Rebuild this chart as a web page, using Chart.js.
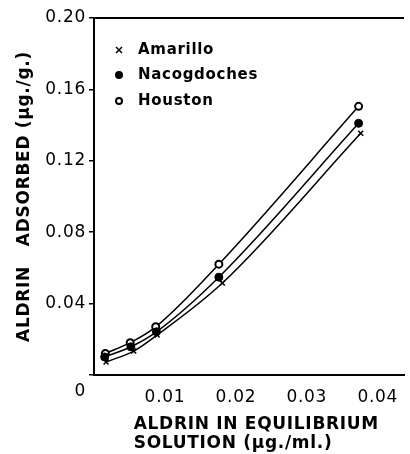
<!DOCTYPE html>
<html>
<head>
<meta charset="utf-8">
<script src="https://cdn.jsdelivr.net/npm/chart.js@4.4.1/dist/chart.umd.min.js"></script>
<style>
  html, body { margin: 0; padding: 0; background: #fff; }
  canvas { display: block; }
</style>
</head>
<body>
<canvas id="aldrin-chart" width="410" height="454"></canvas>
<script>
// aldrin adsorption vs equilibrium concentration, three soils

var seriesNames = ['Amarillo', 'Nacogdoches', 'Houston'];

// x = aldrin in solution (µg/ml), y = aldrin adsorbed (µg/g)
var amarilloX = [0.0017, 0.0056, 0.0089, 0.0181, 0.0376];
var amarilloY = [0.0073, 0.0134, 0.0224, 0.0515, 0.1354];

var nacogdochesX = [0.0015, 0.0052, 0.0088, 0.0176, 0.0373];
var nacogdochesY = [0.0101, 0.0158, 0.0242, 0.0548, 0.1410];

var houstonX = [0.0016, 0.0051, 0.0087, 0.0176, 0.0373];
var houstonY = [0.0121, 0.0181, 0.0270, 0.0621, 0.1505];

var xTicks = [0.01, 0.02, 0.03, 0.04];
var xTickLabels = ['0.01', '0.02', '0.03', '0.04'];
var yTicks = [0, 0.04, 0.08, 0.12, 0.16, 0.20];
var yTickLabels = ['0', '0.04', '0.08', '0.12', '0.16', '0.20'];

var FONT = 'DejaVu Sans';

function toPoints(xs, ys) {
    return xs.map(function (x, i) { return { x: x, y: ys[i] }; });
}

// letter spacing like the hand lettering of the original
var spacingPlugin = {
    id: 'spacing',
    beforeUpdate: function (chart) { chart.ctx.letterSpacing = '0.7px'; },
    beforeDraw: function (chart) { chart.ctx.letterSpacing = '0.7px'; }
};

// top frame line + legend inside the plot
var framePlugin = {
    id: 'frame',
    afterDraw: function (chart) {
        var ctx = chart.ctx;
        var area = chart.chartArea;
        ctx.save();
        ctx.strokeStyle = '#000';
        ctx.lineWidth = 2;
        ctx.beginPath();
        ctx.moveTo(area.left - 1, area.top);
        ctx.lineTo(area.right, area.top);
        ctx.stroke();

        // legend
        var lx = area.left + 25;
        var ly = [area.top + 32, area.top + 57, area.top + 83];
        ctx.font = 'bold 15px "' + FONT + '"';
        ctx.fillStyle = '#000';
        ctx.textBaseline = 'middle';
        ctx.textAlign = 'left';
        seriesNames.forEach(function (name, i) {
            var y = ly[i];
            ctx.lineWidth = 1.5;
            if (i == 0) {
                ctx.beginPath();
                ctx.moveTo(lx - 3, y - 3); ctx.lineTo(lx + 3, y + 3);
                ctx.moveTo(lx + 3, y - 3); ctx.lineTo(lx - 3, y + 3);
                ctx.stroke();
            } else if (i == 1) {
                ctx.beginPath();
                ctx.arc(lx, y, 4, 0, Math.PI * 2);
                ctx.fill();
            } else {
                ctx.lineWidth = 2;
                ctx.beginPath();
                ctx.arc(lx, y, 3, 0, Math.PI * 2);
                ctx.stroke();
            }
            ctx.fillText(name, lx + 19, y);
        });
        ctx.restore();
    }
};

var ctx = document.getElementById('aldrin-chart').getContext('2d');

var chart = new Chart(ctx, {
    type: 'scatter',
    data: {
        datasets: [{
            label: seriesNames[0],
            data: toPoints(amarilloX, amarilloY),
            showLine: true,
            cubicInterpolationMode: 'monotone',
            borderColor: '#000',
            borderWidth: 1.5,
            pointStyle: 'crossRot',
            pointRadius: 3.5,
            pointBorderWidth: 1.5,
            pointBorderColor: '#000'
        }, {
            label: seriesNames[1],
            data: toPoints(nacogdochesX, nacogdochesY),
            showLine: true,
            cubicInterpolationMode: 'monotone',
            borderColor: '#000',
            borderWidth: 1.5,
            pointStyle: 'circle',
            pointRadius: 4,
            pointBackgroundColor: '#000',
            pointBorderColor: '#000',
            pointBorderWidth: 1
        }, {
            label: seriesNames[2],
            data: toPoints(houstonX, houstonY),
            showLine: true,
            cubicInterpolationMode: 'monotone',
            borderColor: '#000',
            borderWidth: 1.5,
            pointStyle: 'circle',
            pointRadius: 3.5,
            pointBackgroundColor: '#fff',
            pointBorderColor: '#000',
            pointBorderWidth: 2
        }]
    },
    options: {
        responsive: false,
        animation: false,
        devicePixelRatio: 1,
        layout: { padding: { top: 18, right: 0, left: 0, bottom: 0 } },
        plugins: {
            legend: { display: false },
            tooltip: { enabled: false }
        },
        scales: {
            x: {
                type: 'linear',
                min: 0,
                max: 0.0437,
                afterFit: function (scale) { scale.height = 79; },
                afterBuildTicks: function (scale) {
                    scale.ticks = xTicks.map(function (v) { return { value: v }; });
                },
                border: { display: true, color: '#000', width: 2 },
                grid: { display: false },
                ticks: {
                    color: '#000',
                    padding: 4,
                    maxRotation: 0,
                    font: { family: FONT, size: 17 },
                    callback: function (value) {
                        var i = xTicks.indexOf(value);
                        return i >= 0 ? xTickLabels[i] : '';
                    }
                },
                title: {
                    display: true,
                    // both lines start at the same left edge in the original
                    text: ['      ALDRIN IN EQUILIBRIUM', '      SOLUTION (\u03bcg./ml.)'],
                    align: 'start',
                    color: '#000',
                    font: { family: FONT, size: 17, weight: 'bold', lineHeight: 1.12 },
                    padding: { top: 0, bottom: 1 }
                }
            },
            y: {
                type: 'linear',
                min: 0,
                max: 0.20,
                afterFit: function (scale) { scale.width = 94; },
                afterBuildTicks: function (scale) {
                    scale.ticks = yTicks.map(function (v) { return { value: v }; });
                },
                border: { display: true, color: '#000', width: 2 },
                grid: { drawOnChartArea: false, color: '#000', lineWidth: 1.5, tickLength: 5 },
                ticks: {
                    color: '#000',
                    padding: 3,
                    font: { family: FONT, size: 17, lineHeight: 1 },
                    callback: function (value) {
                        var i = yTicks.indexOf(value);
                        if (i == 0) return ['', '', yTickLabels[0]];
                        return i >= 0 ? yTickLabels[i] : '';
                    }
                },
                title: {
                    display: true,
                    text: 'ALDRIN   ADSORBED (\u03bcg./g.)',
                    color: '#000',
                    font: { family: FONT, size: 17, weight: 'bold' },
                    padding: { top: 14, bottom: 0 }
                }
            }
        }
    },
    plugins: [spacingPlugin, framePlugin]
});
</script>
</body>
</html>
